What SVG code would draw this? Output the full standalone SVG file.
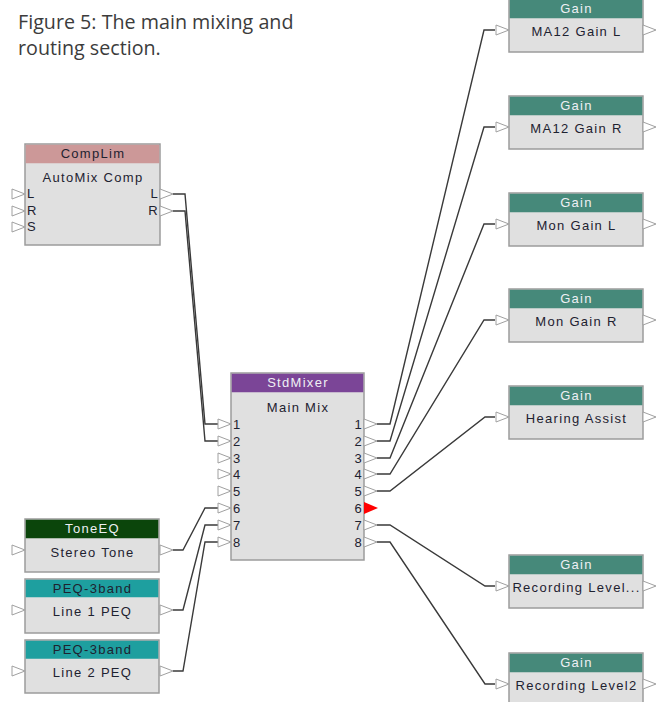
<svg xmlns="http://www.w3.org/2000/svg" xmlns:xlink="http://www.w3.org/1999/xlink" width="660" height="702" viewBox="0 0 660 702">
<style>
.body{fill:#e0e0e0;stroke:#9c9c9c;stroke-width:1.5}
.t{font-family:"Liberation Sans",Arial,sans-serif;font-size:13px;letter-spacing:1.3px;fill:#1e2230}
.c{text-anchor:middle}
.r{text-anchor:end}
.hl{fill:#eef0f4}
.pin{fill:#fff;stroke:#a0a0a0;stroke-width:1}
.wire{fill:none;stroke:#3a3a3a;stroke-width:1.4}
.cap{font-family:"Open Sans","Noto Sans",sans-serif;font-size:19.7px;fill:#3c3c3c}
</style>
<defs>
<path id="pin" class="pin" d="M0,-5 L13,0 L0,5 Z"/>
</defs>
<rect width="660" height="702" fill="#fff"/>
<g id="caption">
<text class="cap" x="18" y="29">Figure 5: The main mixing and</text>
<text class="cap" x="18" y="55">routing section.</text>
</g>
<g id="connectors">
<path class="wire" d="M173,194 H185 L205,424 H218"/>
<path class="wire" d="M173,211 H185 L205,441 H218"/>
<path class="wire" d="M173,550 H183 L205,508 H218"/>
<path class="wire" d="M173,610 H183 L205,525 H218"/>
<path class="wire" d="M173,671 H183 L205,542 H218"/>
<path class="wire" d="M377,424 H390 L484,30 H495"/>
<path class="wire" d="M377,441 H390 L484,127 H495"/>
<path class="wire" d="M377,458 H390 L484,224 H495"/>
<path class="wire" d="M377,474 H390 L484,320 H495"/>
<path class="wire" d="M377,491 H390 L485,417 H495"/>
<path class="wire" d="M377,525 H390 L485,586 H495"/>
<path class="wire" d="M377,542 H390 L485,684 H495"/>
</g>
<g id="complim">
<rect class="body" x="25" y="144" width="135" height="101"/>
<rect x="25.75" y="144.75" width="133.5" height="18.5" fill="#cc9898"/>
<text class="t c" x="93" y="158">CompLim</text>
<text class="t c" x="93" y="182">AutoMix Comp</text>
<text class="t" x="27" y="198">L</text>
<text class="t" x="27" y="215">R</text>
<text class="t" x="27" y="231">S</text>
<text class="t r" x="159" y="198">L</text>
<text class="t r" x="159" y="215">R</text>
<use xlink:href="#pin" x="12" y="194"/>
<use xlink:href="#pin" x="12" y="211"/>
<use xlink:href="#pin" x="12" y="227"/>
<use xlink:href="#pin" x="160" y="194"/>
<use xlink:href="#pin" x="160" y="211"/>
</g>
<g id="stdmixer">
<rect class="body" x="231" y="373" width="133" height="187"/>
<rect x="231.75" y="373.75" width="131.5" height="18.5" fill="#7b4597"/>
<text class="t c hl" x="298" y="387">StdMixer</text>
<text class="t c" x="298" y="412">Main Mix</text>
<g class="t">
<text x="233" y="429">1</text><text x="233" y="446">2</text><text x="233" y="463">3</text><text x="233" y="479">4</text>
<text x="233" y="496">5</text><text x="233" y="513">6</text><text x="233" y="530">7</text><text x="233" y="547">8</text>
</g>
<g class="t r">
<text x="363" y="429">1</text><text x="363" y="446">2</text><text x="363" y="463">3</text><text x="363" y="479">4</text>
<text x="363" y="496">5</text><text x="363" y="513">6</text><text x="363" y="530">7</text><text x="363" y="547">8</text>
</g>
<use xlink:href="#pin" x="218" y="424"/><use xlink:href="#pin" x="218" y="441"/><use xlink:href="#pin" x="218" y="458"/><use xlink:href="#pin" x="218" y="474"/>
<use xlink:href="#pin" x="218" y="491"/><use xlink:href="#pin" x="218" y="508"/><use xlink:href="#pin" x="218" y="525"/><use xlink:href="#pin" x="218" y="542"/>
<use xlink:href="#pin" x="364" y="424"/><use xlink:href="#pin" x="364" y="441"/><use xlink:href="#pin" x="364" y="458"/><use xlink:href="#pin" x="364" y="474"/>
<use xlink:href="#pin" x="364" y="491"/><use xlink:href="#pin" x="364" y="525"/><use xlink:href="#pin" x="364" y="542"/>
<path d="M364,502 L378,508 L364,514 Z" fill="#ff0000"/>
</g>
<g id="toneeq">
<rect class="body" x="25" y="519" width="134" height="53"/>
<rect x="25.75" y="519.75" width="132.5" height="18.5" fill="#0b450b"/>
<text class="t c hl" x="92.5" y="533">ToneEQ</text>
<text class="t c" x="92.5" y="557">Stereo Tone</text>
<use xlink:href="#pin" x="12" y="550"/><use xlink:href="#pin" x="160" y="550"/>
</g>
<g id="line1peq">
<rect class="body" x="25" y="579" width="134" height="54"/>
<rect x="25.75" y="579.75" width="132.5" height="17.5" fill="#1e9f9f"/>
<text class="t c" x="92.5" y="593">PEQ-3band</text>
<text class="t c" x="92.5" y="616">Line 1 PEQ</text>
<use xlink:href="#pin" x="12" y="610"/><use xlink:href="#pin" x="160" y="610"/>
</g>
<g id="line2peq">
<rect class="body" x="25" y="640" width="134" height="53"/>
<rect x="25.75" y="640.75" width="132.5" height="18" fill="#1e9f9f"/>
<text class="t c" x="92.5" y="654">PEQ-3band</text>
<text class="t c" x="92.5" y="677">Line 2 PEQ</text>
<use xlink:href="#pin" x="12" y="671"/><use xlink:href="#pin" x="160" y="671"/>
</g>
<g id="gain-ma12l">
<rect class="body" x="509" y="-1" width="134" height="53"/>
<rect x="509.75" y="-0.25" width="132.5" height="18.5" fill="#46897a"/>
<text class="t c hl" x="576.5" y="13">Gain</text>
<text class="t c" x="576.5" y="36">MA12 Gain L</text>
<use xlink:href="#pin" x="496" y="30"/><use xlink:href="#pin" x="643" y="30"/>
</g>
<g id="gain-ma12r">
<rect class="body" x="509" y="96" width="134" height="53"/>
<rect x="509.75" y="96.75" width="132.5" height="18.5" fill="#46897a"/>
<text class="t c hl" x="576.5" y="110">Gain</text>
<text class="t c" x="576.5" y="133">MA12 Gain R</text>
<use xlink:href="#pin" x="496" y="127"/><use xlink:href="#pin" x="643" y="127"/>
</g>
<g id="gain-monl">
<rect class="body" x="509" y="193" width="134" height="53"/>
<rect x="509.75" y="193.75" width="132.5" height="18.5" fill="#46897a"/>
<text class="t c hl" x="576.5" y="207">Gain</text>
<text class="t c" x="576.5" y="230">Mon Gain L</text>
<use xlink:href="#pin" x="496" y="224"/><use xlink:href="#pin" x="643" y="224"/>
</g>
<g id="gain-monr">
<rect class="body" x="509" y="289" width="134" height="53"/>
<rect x="509.75" y="289.75" width="132.5" height="18.5" fill="#46897a"/>
<text class="t c hl" x="576.5" y="303">Gain</text>
<text class="t c" x="576.5" y="326">Mon Gain R</text>
<use xlink:href="#pin" x="496" y="320"/><use xlink:href="#pin" x="643" y="320"/>
</g>
<g id="gain-hearing">
<rect class="body" x="509" y="386" width="134" height="53"/>
<rect x="509.75" y="386.75" width="132.5" height="18.5" fill="#46897a"/>
<text class="t c hl" x="576.5" y="400">Gain</text>
<text class="t c" x="576.5" y="423">Hearing Assist</text>
<use xlink:href="#pin" x="496" y="417"/><use xlink:href="#pin" x="643" y="417"/>
</g>
<g id="gain-rec1">
<rect class="body" x="509" y="555" width="134" height="53"/>
<rect x="509.75" y="555.75" width="132.5" height="18.5" fill="#46897a"/>
<text class="t c hl" x="576.5" y="569">Gain</text>
<text class="t c" x="576.5" y="592">Recording Level...</text>
<use xlink:href="#pin" x="496" y="586"/><use xlink:href="#pin" x="643" y="586"/>
</g>
<g id="gain-rec2">
<rect class="body" x="509" y="653" width="134" height="53"/>
<rect x="509.75" y="653.75" width="132.5" height="18.5" fill="#46897a"/>
<text class="t c hl" x="576.5" y="667">Gain</text>
<text class="t c" x="576.5" y="690">Recording Level2</text>
<use xlink:href="#pin" x="496" y="684"/><use xlink:href="#pin" x="643" y="684"/>
</g>
</svg>
